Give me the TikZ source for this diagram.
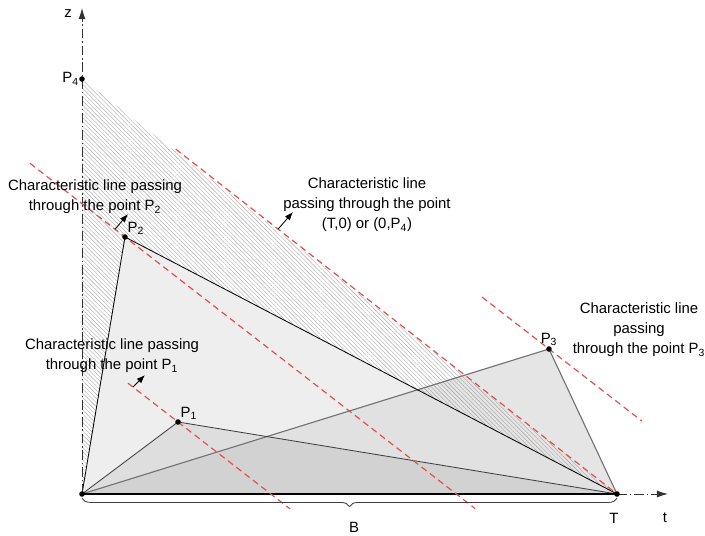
\documentclass[tikz,border=0pt]{standalone}
\usepackage{fontspec}
\setmainfont{Liberation Sans}
\usepackage{tikz}
\usetikzlibrary{arrows.meta,positioning,calc,decorations.pathreplacing,patterns.meta}
\definecolor{charred}{RGB}{228,78,78}
\tikzset{
  charline/.style={charred,line width=0.85pt,dash pattern=on 4.5pt off 3pt},
  lbl/.style={align=center,inner sep=1pt,font=\fontsize{10.6}{14.2}\selectfont},
  axisline/.style={black!80,line width=0.6pt,dash pattern=on 7pt off 2pt on 1pt off 2pt}
}

\begin{document}
\begin{tikzpicture}[>=Latex,x=1cm,y=1cm]
\useasboundingbox (-2.05,-1.05) rectangle (15.575,12.35);
\coordinate (O) at (0,0);
\coordinate (T) at (13.375,0);
\coordinate (P1) at (2.4,1.8);
\coordinate (P2) at (1.075,6.425);
\coordinate (P3) at (11.675,3.625);
\coordinate (P4) at (0,10.375);
\fill[gray!10] (O)--(P3)--(T)--cycle;
\fill[pattern={Lines[angle=-45,distance=2.1pt,line width=0.3pt]},pattern color=gray!65] (O)--(P4)--(T)--cycle;
\fill[gray!13] (O)--(P2)--(T)--cycle;
\fill[gray!26] (O)--(P1)--(T)--cycle;
\fill[black,opacity=0.05] (O)--(P3)--(T)--cycle;
\draw[black!55,line width=0.8pt] (O)--(P3)--(T);
\draw[black,line width=0.6pt] (O)--(P2)--(T);
\draw[black!75,line width=0.6pt] (O)--(P1)--(T);
\draw[axisline,-{Latex[length=8pt,width=5pt]}] (O) -- (0,12.15) coordinate (ztip);
\draw[axisline,-{Latex[length=8pt,width=5pt]}] (T) -- (14.65,0) coordinate (ttip);
\draw[line width=1.6pt] (O) -- (T);
\draw[charline] ($(P2)+(-2.375,1.842)$) -- ($(P2)+(8.75,-6.787)$);
\draw[charline] ($(P1)+(-1.25,0.97)$) -- ($(P1)+(2.8,-2.172)$);
\draw[charline] ($(P3)+(-1.675,1.299)$) -- ($(P3)+(2.325,-1.804)$);
\draw[charline] ($(T)+(-11.03,8.62)$) -- (T);
\foreach \p in {O,T,P1,P2,P3,P4} {\fill (\p) circle (0.07);}
\foreach \n/\pos in {1/above right,2/above right,3/above,4/left} {\node[lbl,\pos=1pt] (lP\n) at (P\n) {P\textsubscript{\n}};}
\node[lbl] (zl) at (-0.35,12.0) {z};
\node[lbl] (Tl) at (13.3,-0.6) {T};
\node[lbl] (tl) at (14.575,-0.6) {t};
\draw[decorate,decoration={brace,amplitude=6pt,mirror,raise=3pt},black!75,line width=0.6pt] (O) -- (T);
\node[lbl] (Bl) at (6.8,-0.825) {B};
\node[lbl] (c2) at (0.325,7.425) {Characteristic line passing\\through the point P\textsubscript{2}};
\node[lbl] (c4) at (7.125,7.225) {Characteristic line\\passing through the point\\(T,0) or (0,P\textsubscript{4})};
\node[lbl] (c3) at (13.925,4.1) {Characteristic line\\passing\\through the point P\textsubscript{3}};
\node[lbl] (c1) at (0.75,3.45) {Characteristic line passing\\through the point P\textsubscript{1}};
\coordinate (a2s) at ($(P2)+(-0.25,0.194)$);
\coordinate (a2e) at (1.15,7.0);
\coordinate (a4s) at (4.9,6.62);
\coordinate (a4e) at (5.275,7.05);
\coordinate (a1s) at ($(P1)+(-1.125,0.873)$);
\coordinate (a1e) at (1.575,2.975);
\foreach \a in {a2,a4,a1} {\draw[-{Latex[length=6pt,width=4.5pt]},line width=0.6pt] (\a s) -- (\a e);}
\end{tikzpicture}
\end{document}
